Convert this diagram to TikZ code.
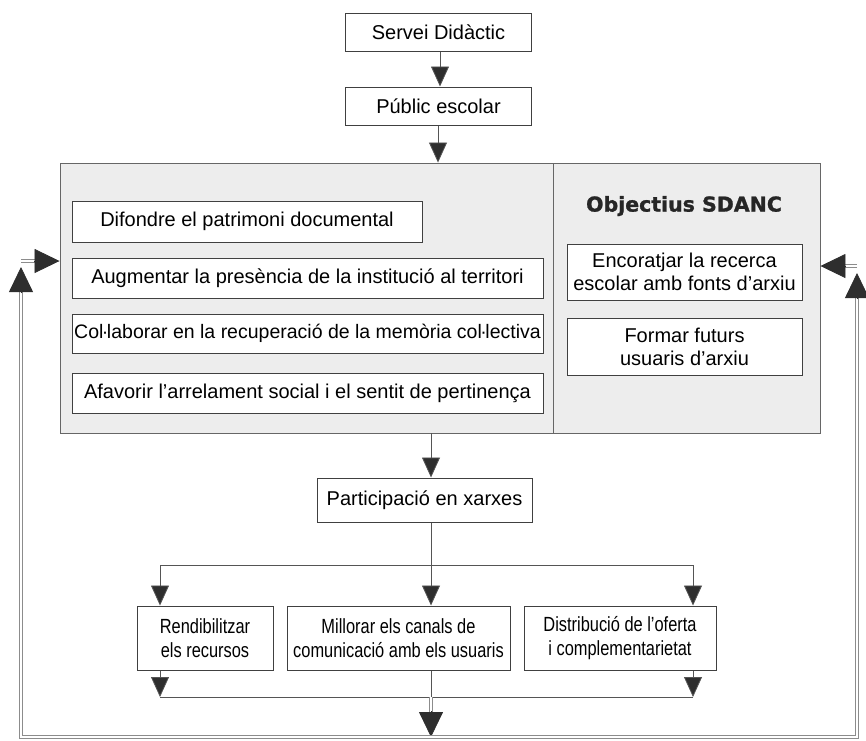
\documentclass[tikz,border=0pt]{standalone}
\usepackage{fontspec}
\setmainfont{Liberation Sans}
\newfontfamily\condfont{Liberation Sans}[FakeStretch=0.8]
\newfontface\titlefont{DejaVu Sans Bold}[FakeBold=1.2]
\usetikzlibrary{arrows.meta,calc}
\definecolor{linec}{HTML}{555555}
\definecolor{tipc}{HTML}{2E2E2E}
\definecolor{panel}{HTML}{EDEDED}
\newcommand{\ldot}{\kern-1.5pt·\kern-1.5pt}
\begin{document}
\begin{tikzpicture}[x=1pt,y=-1pt,
  txt/.style={font=\fontsize{20}{23}\selectfont},
  stepbox/.style={draw=black!75, line width=1pt, fill=white, inner sep=0pt, align=center, txt},
  condbox/.style={stepbox, font=\condfont\fontsize{20.5}{23.5}\selectfont},
  conn/.style={draw=linec, line width=0.8pt, -{Triangle[width=18pt,length=20pt,fill=tipc]}},
  plainline/.style={draw=linec, line width=0.8pt},
  dbl/.style={draw=black!45, line width=0.7pt, double=white, double distance=2.4pt},
  bigtip/.style={draw=tipc, line width=0.8pt, -{Triangle[width=24pt,length=25pt,fill=tipc]}}
]
\useasboundingbox (0,0) rectangle (866,740);
% top boxes
\node[stepbox, minimum width=186pt, minimum height=38pt] (servei) at (438.5,32) {Servei Didàctic};
\node[stepbox, minimum width=186pt, minimum height=38pt] (public) at (438.5,106) {Públic escolar};
% big panel
\node[draw=black!60, line width=0.9pt, fill=panel, minimum width=760pt, minimum height=270pt, inner sep=0pt] (big) at (440,298) {};
\coordinate (divtop) at (553,163);
\coordinate (divbot) at (553,433);
\draw[draw=black!60, line width=0.9pt] (divtop) -- (divbot);
% left objectives
\node[stepbox, minimum width=350pt, minimum height=41pt] (difondre) at (247,221.5) {Difondre el patrimoni documental};
\node[stepbox, minimum width=471pt, minimum height=40pt] (augmentar) at (307.5,278) {Augmentar la presència de la institució al territori};
\node[stepbox, minimum width=471pt, minimum height=39pt, font=\fontsize{19.5}{23}\selectfont] (collaborar) at (307.5,333.5) {Col\ldot laborar en la recuperació de la memòria col\ldot lectiva};
\node[stepbox, minimum width=471pt, minimum height=40pt] (afavorir) at (307.5,393) {Afavorir l’arrelament social i el sentit de pertinença};
% right objectives
\node[inner sep=0pt, font=\titlefont\fontsize{20.5}{23}\selectfont, text=black!85] (title) at (684,206) {Objectius SDANC};
\node[stepbox, minimum width=235pt, minimum height=56pt] (encoratjar) at (684.5,272) {Encoratjar la recerca\\escolar amb fonts d’arxiu};
\node[stepbox, minimum width=235pt, minimum height=57pt] (formar) at (684.5,346.5) {Formar futurs\\usuaris d’arxiu};
% participacio
\node[stepbox, minimum width=215pt, minimum height=44pt] (particip) at (424.5,500) {Participació en xarxes};
% bottom row
\node[condbox, minimum width=136pt, minimum height=64pt] (rendib) at (205,638) {Rendibilitzar\\els recursos};
\node[condbox, minimum width=223pt, minimum height=64pt] (millorar) at (398.5,638) {Millorar els canals de\\comunicació amb els usuaris};
\node[condbox, minimum width=192pt, minimum height=64pt] (distrib) at (620,638) {Distribució de l’oferta\\i complementarietat};
% top connectors
\draw[conn] (servei.south -| 440,0) -- (public.north -| 440,0);
\draw[conn] (public.south -| 438,0) -- (big.north -| 438,0);
\draw[conn] (big.south -| 431,0) -- (particip.north -| 431,0);
% distribution
\coordinate (splitc) at (431,565);
\coordinate (splitl) at (160,565);
\coordinate (splitr) at (693,565);
\draw[plainline] (particip.south -| splitc) -- (splitc);
\draw[plainline] (splitl) -- (splitr);
\draw[conn] (splitl) -- (rendib.north -| splitl);
\draw[conn] (splitc) -- (millorar.north -| splitc);
\draw[conn] (splitr) -- (distrib.north -| splitr);
% merge
\coordinate (mergel) at (160,697);
\coordinate (merger) at (693,697);
\coordinate (mergec) at (431,697);
\draw[conn] (rendib.south -| mergel) -- (mergel);
\draw[conn] (distrib.south -| merger) -- (merger);
\draw[plainline] (mergel) -- (merger);
\draw[plainline] (millorar.south -| mergec) -- (mergec);
\coordinate (outbase) at (431,712);
\coordinate (outtip) at (431,737);
\draw[dbl] (mergec) -- (outbase);
\draw[bigtip] ($(outbase)+(0,-1)$) -- (outtip);
% feedback loop
\coordinate (bl) at (21,737);
\coordinate (br) at (857,737);
\coordinate (lbase) at (21,292);
\coordinate (ltip) at (21,267);
\coordinate (rbase) at (857,298);
\coordinate (rtip) at (857,273);
\draw[dbl] (lbase) -- (bl) -- (br) -- (rbase);
\draw[bigtip] ($(lbase)+(0,1)$) -- (ltip);
\draw[bigtip] ($(rbase)+(0,1)$) -- (rtip);
% stubs into the panel
\coordinate (lstub) at (21,261);
\coordinate (lstubb) at (35,261);
\coordinate (rstub) at (857,266);
\coordinate (rstubb) at (845,266);
\draw[dbl] (lstub) -- (lstubb);
\draw[bigtip] ($(lstubb)+(-1,0)$) -- (big.west |- lstub);
\draw[dbl] (rstub) -- (rstubb);
\draw[bigtip] ($(rstubb)+(1,0)$) -- (big.east |- rstub);
\end{tikzpicture}
\end{document}
